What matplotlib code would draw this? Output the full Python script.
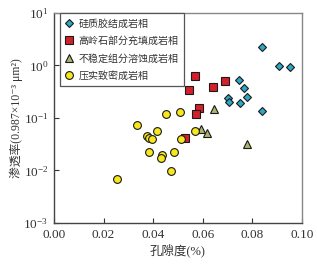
import matplotlib
matplotlib.use("Agg")
import matplotlib.pyplot as plt
from matplotlib.ticker import LogLocator, NullLocator

plt.rcParams['mathtext.fontset'] = 'stix'
plt.rcParams['font.family'] = ['Liberation Serif', 'Noto Sans CJK SC', 'DejaVu Sans']

# porosity (fraction) and permeability for each facies
si_x = [0.0840, 0.0905, 0.0952, 0.0744, 0.0764, 0.0702, 0.0707, 0.0777, 0.0749, 0.0837]
si_y = [2.28, 0.99, 0.95, 0.52, 0.38, 0.244, 0.204, 0.248, 0.19, 0.136]

kao_x = [0.0569, 0.0690, 0.0641, 0.0544, 0.0585, 0.0571, 0.0529]
kao_y = [0.63, 0.507, 0.395, 0.341, 0.153, 0.121, 0.0407]

dis_x = [0.0644, 0.0592, 0.0615, 0.0777]
dis_y = [0.148, 0.061, 0.051, 0.0315]

com_x = [0.0450, 0.0508, 0.0336, 0.0417, 0.0374, 0.0385, 0.0394, 0.0511,
         0.0567, 0.0382, 0.0435, 0.0433, 0.0484, 0.0471, 0.0256]
com_y = [0.119, 0.130, 0.0736, 0.0573, 0.0448, 0.041, 0.0393, 0.0398,
         0.0558, 0.0222, 0.020, 0.0171, 0.0222, 0.0099, 0.0068]

labels = ['硅质胶结成岩相', '高岭石部分充填成岩相', '不稳定组分溶蚀成岩相', '压实致密成岩相']
xticks = [0.00, 0.02, 0.04, 0.06, 0.08, 0.10]

fig = plt.figure(figsize=(3.17, 2.69), dpi=100)
ax = fig.add_axes([0.170, 0.171, 0.783, 0.781])

ms = 5.2
ec = '#1a1a1a'
ax.plot(kao_x, kao_y, 's', ms=ms, mfc='#d3202b', mec=ec, mew=0.8, label=labels[1], zorder=3)
ax.plot(com_x, com_y, 'o', ms=ms + 0.4, mfc='#f7e71c', mec=ec, mew=0.8, label=labels[3], zorder=4)
ax.plot(si_x, si_y, 'D', ms=ms - 0.8, mfc='#2aa9c4', mec=ec, mew=0.8, label=labels[0], zorder=3)
ax.plot(dis_x, dis_y, '^', ms=ms, mfc='#abb66c', mec=ec, mew=0.8, label=labels[2], zorder=3)

ax.set_yscale('log')
ax.set_ylim(1e-3, 1e1)
ax.set_xlim(0.0, 0.10)
ax.set_xticks(xticks)
ax.set_xticklabels(['%.2f' % v for v in xticks])
ax.yaxis.set_major_locator(LogLocator(base=10, numticks=10))
ax.yaxis.set_minor_locator(NullLocator())
ax.tick_params(direction='in', length=3.5, width=0.8, labelsize=9.5, colors='#333333',
               labelcolor='#333333', pad=4)

for side in ['left', 'bottom']:
    ax.spines[side].set_color('#444444')
    ax.spines[side].set_linewidth(1.0)
for side in ['top', 'right']:
    ax.spines[side].set_color('#888888')
    ax.spines[side].set_linewidth(1.0)

ax.set_xlabel('孔隙度(%)', fontsize=9, color='#333333', labelpad=2)
ax.set_ylabel('渗透率(0.987×10⁻³ μm²)', fontsize=8.5, color='#333333')
ax.yaxis.set_label_coords(-0.125, 0.5)

h, l = ax.get_legend_handles_labels()
order = [l.index(t) for t in labels]
leg = ax.legend([h[i] for i in order], [l[i] for i in order], loc='upper left',
                bbox_to_anchor=(0.024, 1.0), borderaxespad=0, fancybox=False,
                framealpha=1, edgecolor='#555555', handlelength=0.8,
                handletextpad=0.5, labelspacing=0.75, borderpad=0.55,
                prop={'family': ['Noto Sans CJK SC'], 'size': 7.2})
leg.get_frame().set_linewidth(0.9)
for t in leg.get_texts():
    t.set_color('#333333')

fig.savefig('out.png', dpi=100)
